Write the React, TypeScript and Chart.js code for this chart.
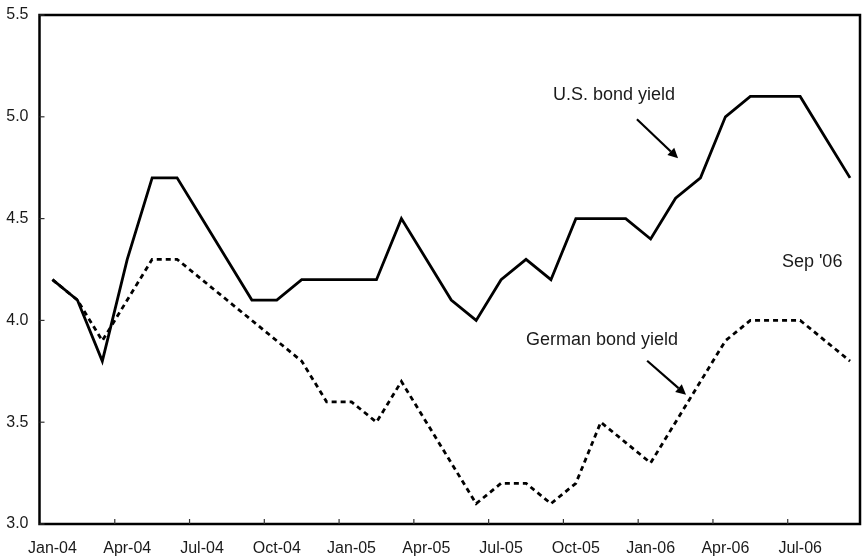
import React, { useEffect, useRef } from "react";
import { Chart, registerables } from "chart.js";

Chart.register(...registerables);

const months = [
  "Jan-04", "Feb-04", "Mar-04", "Apr-04", "May-04", "Jun-04", "Jul-04", "Aug-04", "Sep-04", "Oct-04", "Nov-04", "Dec-04",
  "Jan-05", "Feb-05", "Mar-05", "Apr-05", "May-05", "Jun-05", "Jul-05", "Aug-05", "Sep-05", "Oct-05", "Nov-05", "Dec-05",
  "Jan-06", "Feb-06", "Mar-06", "Apr-06", "May-06", "Jun-06", "Jul-06", "Aug-06", "Sep-06",
];

const usYield = [
  4.2, 4.1, 3.8, 4.3, 4.7, 4.7, 4.5, 4.3, 4.1, 4.1, 4.2, 4.2,
  4.2, 4.2, 4.5, 4.3, 4.1, 4.0, 4.2, 4.3, 4.2, 4.5, 4.5, 4.5,
  4.4, 4.6, 4.7, 5.0, 5.1, 5.1, 5.1, 4.9, 4.7,
];

const germanYield = [
  4.2, 4.1, 3.9, 4.1, 4.3, 4.3, 4.2, 4.1, 4.0, 3.9, 3.8, 3.6,
  3.6, 3.5, 3.7, 3.5, 3.3, 3.1, 3.2, 3.2, 3.1, 3.2, 3.5, 3.4,
  3.3, 3.5, 3.7, 3.9, 4.0, 4.0, 4.0, 3.9, 3.8,
];

const xTickLabels = ["Jan-04", "Apr-04", "Jul-04", "Oct-04", "Jan-05", "Apr-05", "Jul-05", "Oct-05", "Jan-06", "Apr-06", "Jul-06"];
const yTicks = [3.0, 3.5, 4.0, 4.5, 5.0, 5.5];

const FONT = "'Liberation Sans', Arial, sans-serif";
const INK = "#1a1a1a";

const framePlugin = {
  id: "frameAndAnnotations",
  afterDatasetsDraw(chart: any) {
    const { ctx, chartArea } = chart;
    const xs = chart.scales.x;
    const ys = chart.scales.y;
    ctx.save();
    // frame
    ctx.strokeStyle = "#000";
    ctx.lineWidth = 2.5;
    ctx.strokeRect(chartArea.left, chartArea.top, chartArea.right - chartArea.left, chartArea.bottom - chartArea.top);
    // inward tick marks
    ctx.lineWidth = 1.2;
    ctx.strokeStyle = "#333";
    for (const v of yTicks) {
      const py = ys.getPixelForValue(v);
      ctx.beginPath();
      ctx.moveTo(chartArea.left, py);
      ctx.lineTo(chartArea.left + 5, py);
      ctx.stroke();
    }
    months.forEach((m, i) => {
      if (i % 3 === 0 && i > 0) {
        const px = xs.getPixelForValue(i - 0.5);
        ctx.beginPath();
        ctx.moveTo(px, chartArea.bottom);
        ctx.lineTo(px, chartArea.bottom - 5);
        ctx.stroke();
      }
    });
    // annotation texts
    ctx.fillStyle = INK;
    ctx.font = `18px ${FONT}`;
    ctx.textAlign = "center";
    ctx.textBaseline = "middle";
    const texts: [string, number, number][] = [
      ["U.S. bond yield", 22.53, 5.106],
      ["German bond yield", 22.05, 3.905],
      ["Sep '06", 30.48, 4.289],
    ];
    for (const [t, xv, yv] of texts) {
      ctx.fillText(t, xs.getPixelForValue(xv), ys.getPixelForValue(yv));
    }
    // arrows
    const arrows: [number, number, number, number][] = [
      [23.45, 4.988, 25.1, 4.796],
      [23.86, 3.802, 25.42, 3.635],
    ];
    ctx.strokeStyle = "#000";
    ctx.fillStyle = "#000";
    ctx.lineWidth = 2.2;
    for (const [x1v, y1v, x2v, y2v] of arrows) {
      const x1 = xs.getPixelForValue(x1v);
      const y1 = ys.getPixelForValue(y1v);
      const x2 = xs.getPixelForValue(x2v);
      const y2 = ys.getPixelForValue(y2v);
      const ang = Math.atan2(y2 - y1, x2 - x1);
      const hl = 10;
      const hw = 5;
      const bx = x2 - hl * Math.cos(ang);
      const by = y2 - hl * Math.sin(ang);
      ctx.beginPath();
      ctx.moveTo(x1, y1);
      ctx.lineTo(bx, by);
      ctx.stroke();
      ctx.beginPath();
      ctx.moveTo(x2, y2);
      ctx.lineTo(bx + hw * Math.sin(ang), by - hw * Math.cos(ang));
      ctx.lineTo(bx - hw * Math.sin(ang), by + hw * Math.cos(ang));
      ctx.closePath();
      ctx.fill();
    }
    ctx.restore();
  },
};

export default function App() {
  const canvasRef = useRef<HTMLCanvasElement | null>(null);

  useEffect(() => {
    document.body.style.margin = "0";
    const canvas = canvasRef.current;
    if (!canvas) return;
    const chart = new Chart(canvas, {
      type: "line",
      data: {
        datasets: [
          {
            label: "U.S. bond yield",
            data: usYield.map((v, i) => ({ x: i, y: v })),
            borderColor: "#000",
            borderWidth: 2.8,
            pointRadius: 0,
            fill: false,
            tension: 0,
          },
          {
            label: "German bond yield",
            data: germanYield.map((v, i) => ({ x: i, y: v })),
            borderColor: "#000",
            borderWidth: 2.8,
            borderDash: [5, 4],
            pointRadius: 0,
            fill: false,
            tension: 0,
          },
        ],
      },
      options: {
        responsive: false,
        animation: false,
        layout: { padding: { top: 15, right: 2, left: 0, bottom: 0 } },
        plugins: { legend: { display: false }, tooltip: { enabled: false } },
        scales: {
          x: {
            type: "linear",
            min: -0.52,
            max: 32.4,
            grid: { display: false, drawTicks: false },
            border: { display: false },
            afterBuildTicks: (scale: any) => {
              scale.ticks = xTickLabels.map((l) => ({ value: months.indexOf(l) }));
            },
            afterFit: (scale: any) => {
              scale.height = 34;
              scale.paddingLeft = 0;
              scale.paddingRight = 0;
            },
            ticks: {
              autoSkip: false,
              maxRotation: 0,
              padding: 15,
              color: INK,
              font: { family: FONT, size: 16 },
              callback: (value: any) => months[Math.round(Number(value))] ?? "",
            },
          },
          y: {
            min: 3,
            max: 5.5,
            grid: { display: false, drawTicks: false },
            border: { display: false },
            afterBuildTicks: (scale: any) => {
              scale.ticks = yTicks.map((v) => ({ value: v }));
            },
            afterFit: (scale: any) => {
              scale.width = 39.5;
              scale.paddingTop = 0;
              scale.paddingBottom = 0;
            },
            ticks: {
              padding: 11,
              color: INK,
              font: { family: FONT, size: 16 },
              callback: (value: any) => Number(value).toFixed(1),
            },
          },
        },
      },
      plugins: [framePlugin],
    });
    return () => chart.destroy();
  }, []);

  return (
    <div style={{ width: 862, height: 558, background: "#fff" }}>
      <canvas ref={canvasRef} width={862} height={558} style={{ display: "block" }} />
    </div>
  );
}
